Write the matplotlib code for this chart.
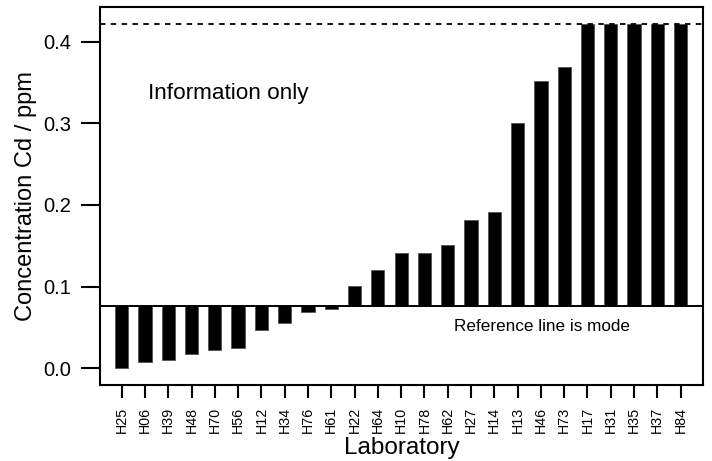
import numpy as np
import matplotlib
matplotlib.use('Agg')
import matplotlib.pyplot as plt

plt.rcParams['font.family'] = ['Liberation Sans', 'DejaVu Sans']

labs = ['H25', 'H06', 'H39', 'H48', 'H70', 'H56', 'H12', 'H34', 'H76', 'H61',
        'H22', 'H64', 'H10', 'H78', 'H62', 'H27', 'H14', 'H13', 'H46', 'H73',
        'H17', 'H31', 'H35', 'H37', 'H84']
conc = [0.000, 0.008, 0.010, 0.018, 0.022, 0.025, 0.047, 0.056, 0.069, 0.073,
        0.101, 0.120, 0.141, 0.141, 0.151, 0.182, 0.191, 0.301, 0.352, 0.369,
        0.45, 0.50, 0.60, 0.80, 1.00]
mode = 0.0767   # reference line
cap = 0.4217    # values above are drawn up to this line

x = np.arange(len(labs))
vals = np.minimum(np.array(conc), cap)

fig = plt.figure(figsize=(7.12, 4.61), dpi=100)
ax = fig.add_axes([0.1404, 0.1649, 0.847, 0.8199])

ax.bar(x, vals - mode, bottom=mode, width=0.57, color='black',
       edgecolor='#555555', linewidth=0.6)
ax.axhline(mode, color='black', lw=1.4)
ax.axhline(cap, color='black', lw=1.3, ls=(0, (3, 3)))

ax.text(1.13, 0.337, 'Information only', fontsize=16.2, ha='left', va='center')
ax.text(18.05, 0.0513, 'Reference line is mode', fontsize=12.3, ha='center', va='center')

ax.set_xlim(-0.93, 24.96)
ax.set_ylim(-0.0205, 0.4425)
ax.set_yticks([0.0, 0.1, 0.2, 0.3, 0.4])
ax.set_yticklabels(['0.0', '0.1', '0.2', '0.3', '0.4'])
ax.set_xticks(x)
ax.set_xticklabels(labs, rotation=90)

ax.tick_params(axis='y', length=14, width=1.5, pad=7, labelsize=14.5)
ax.tick_params(axis='x', length=9.5, width=1.5, pad=6, labelsize=10.3)
for s in ax.spines.values():
    s.set_linewidth(1.5)

ax.set_xlabel('Laboratory', fontsize=17.5, labelpad=3)
ax.set_ylabel('Concentration Cd / ppm', fontsize=17, labelpad=4)

fig.savefig('out.png', dpi=100)
